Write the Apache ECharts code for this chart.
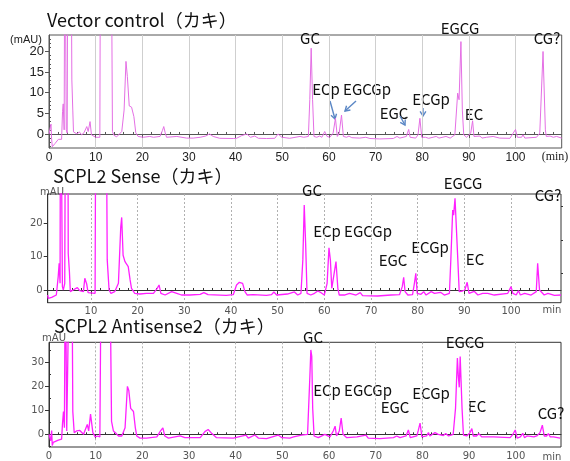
<!DOCTYPE html>
<html><head><meta charset="utf-8">
<script src="https://cdn.jsdelivr.net/npm/echarts@6/dist/echarts.min.js"></script>
<style>html,body{margin:0;padding:0;background:#fff}#c{width:570px;height:461px}</style>
</head><body><div id="c"></div>
<script>
// ---------- data ----------
const titles = ['Vector control（カキ）', 'SCPL2 Sense（カキ）', 'SCPL2 Antisense2（カキ）'];
const peakNames = ['GC', 'ECp', 'EGCGp', 'EGC', 'ECGp', 'EGCG', 'EC', 'CG?'];
const xMajor1 = [0,10,20,30,40,50,60,70,80,90,100];
const xMajor2 = [10,20,30,40,50,60,70,80,90,100];
const xMajor3 = [0,10,20,30,40,50,60,70,80,90,100];
const xMinor = [2,4,6,8,12,14,16,18,22,24,26,28,32,34,36,38,42,44,46,48,52,54,56,58,62,64,66,68,72,74,76,78,82,84,86,88,92,94,96,98,102,104,106,108];
const yMajor1 = [0,5,10,15,20];
const yMinor1 = [-3,-2,-1,1,2,3,4,6,7,8,9,11,12,13,14,16,17,18,19,21,22,23];
const yMajor2 = [0,10,20];
const yMinor2 = [5,15,25];
const yMajor3 = [0,10,20,30];
const yMinor3 = [-5,5,15,25,35];

// Vector control (time min, mAU)
const trace1 = [[0,0],[0.3,0.2],[0.43,2.4],[0.55,-1],[0.7,-3.1],[1.3,-2.3],[2,-1.3],[2.7,-1.3],[2.9,5.4],[3.05,7.3],[3.25,1],[3.4,60],[3.55,60],[3.7,1],[3.9,0.2],[4.05,60],[4.7,60],[4.9,13.1],[5.1,5.8],[5.25,0.5],[5.6,0.2],[6,0],[6.5,0.5],[7,-0.2],[7.5,0.3],[8.1,1.8],[8.4,0.6],[8.8,3],[9.1,-0.2],[9.5,-0.6],[10,-0.8],[10.9,-0.8],[11.05,60],[13.3,60],[13.6,0.6],[13.9,-0.3],[14.5,-0.7],[15.6,0.6],[16.1,5.8],[16.5,17.6],[16.8,13.9],[17.2,6.8],[17.7,6.5],[18.2,4.2],[18.6,0.3],[19.1,-0.6],[20.2,-0.8],[21.6,-0.6],[22.4,-0.8],[23.8,-0.6],[24.3,0.8],[24.6,1.8],[24.9,0.3],[25.2,-0.8],[27.4,-0.6],[29.5,-1],[30.9,-1],[32.4,-0.8],[33.6,-0.5],[34.4,0],[35.2,-0.6],[36.6,-1.05],[39.5,-1.1],[40.2,-1.05],[41.3,-0.4],[42.4,0],[43.2,-0.8],[44.1,-0.5],[44.9,-1.05],[46.6,-1.1],[48.4,-1.05],[49.1,0],[49.9,-0.8],[51.6,-1.05],[53.8,-0.6],[54.1,-0.5],[54.6,-0.8],[55.6,-0.6],[55.9,8.3],[56.2,20.8],[56.5,8.3],[56.8,-0.6],[57.4,-0.8],[58,-0.5],[58.5,-0.8],[59.1,0.6],[59.6,-0.6],[60.2,-0.8],[60.9,0.2],[61.4,3.8],[61.8,-0.6],[62.2,0.2],[62.7,4.6],[63.1,-0.6],[63.8,-0.8],[64.3,-0.5],[64.9,-0.9],[66.6,-1],[67.9,-0.8],[68.2,-0.6],[68.8,-1.1],[70.9,-1.2],[73.8,-1.1],[74.6,-0.6],[75.2,-1],[76.6,-0.6],[77.1,1.1],[77.4,-0.8],[78.6,-1],[79.1,-0.2],[79.5,3.8],[79.9,-0.8],[80.7,-0.8],[81.4,-1.05],[83,-0.6],[83.6,-1],[85.1,-0.6],[86,-1],[87,-0.2],[87.6,9.9],[87.9,8.3],[88.3,22.4],[88.6,5.8],[88.9,-0.2],[89.5,-0.8],[90.4,0.2],[90.8,3.2],[91.1,-0.6],[92.4,-0.5],[92.8,-1],[93.8,-0.8],[95.2,-0.6],[96.6,-1],[98.8,-1.05],[99.5,0.2],[100,1.1],[100.4,-0.8],[101.3,-0.8],[101.6,-0.2],[102,-1],[104.5,-0.8],[105.2,0.2],[105.9,20],[106.4,1],[106.6,-0.6],[107.4,-0.5],[108.1,-0.8],[108.8,-0.6],[109.9,-1]];

// SCPL2 Sense
const trace2 = [[0.75,-1.5],[0.86,-2.5],[1.6,-2.2],[2.6,-1.5],[3,4],[3.2,8],[3.4,2],[3.5,80],[3.7,80],[3.9,1],[4.1,0],[4.4,2],[4.6,80],[5.05,80],[5.15,10.9],[5.4,5.5],[5.6,-0.5],[6.2,0],[7.1,0.7],[7.6,-0.2],[8.4,-0.5],[8.7,3.5],[9.1,1.8],[9.4,-0.8],[9.8,-1],[10.9,-1],[11.1,80],[13.2,80],[13.5,9],[13.9,0],[14.3,-1],[15.1,-0.5],[15.9,2],[16.4,18.9],[16.6,21.7],[16.9,10.4],[17.3,8.5],[18,7],[18.4,3],[18.7,0.5],[19.4,-1],[20.5,-1.2],[21.9,-1],[23.4,-1],[24.2,0.5],[24.6,1.5],[25,-1],[25.9,-1.5],[27.3,-0.5],[28.4,-1],[29.4,-1.5],[31.2,-1.5],[33.4,-1.3],[34.2,-0.8],[35.1,-1.4],[39,-1.6],[40.5,-1.4],[41.2,1.5],[41.8,2.3],[42.5,2],[43,-0.5],[43.5,-1.5],[44.8,-1.4],[47.6,-1.6],[48.7,-1.4],[49.2,-0.6],[49.8,-1.5],[52.1,-1.2],[53.6,-0.6],[54.3,-1.5],[55,-1],[55.4,9],[55.7,25.4],[56,13.9],[56.3,-1],[57.1,-1.5],[57.9,-1],[58.6,-0.3],[59.3,-0.8],[60,-1.5],[60.6,2],[61,12.6],[61.3,9],[61.6,0.5],[62,0],[62.5,8.5],[62.9,0.5],[63.2,-1.5],[64.3,-1.5],[65.4,-1],[66.8,-1.5],[67.7,-0.8],[68.2,-1.7],[71.4,-1.8],[74.3,-1.5],[76.1,-1.4],[76.7,1],[77,3.8],[77.3,-0.5],[77.9,-1.5],[78.9,-1.4],[79.3,2],[79.6,5],[79.9,-1],[80.7,-1.3],[81.3,-0.5],[81.8,-1.5],[82.9,-0.5],[83.6,-1],[84.9,-0.7],[85.7,-1.5],[86.8,-1],[87.1,9],[87.5,23.9],[87.7,22.4],[88,27.4],[88.2,26.9],[88.6,9],[88.9,-0.5],[89.6,-0.3],[90.1,0],[90.6,2.3],[91,-1],[92.1,-0.4],[92.9,-1.5],[93.9,-1],[94.3,-1.5],[95,-1],[96.4,-1.5],[99.3,-1],[100,1],[100.4,-1],[101.1,-1.5],[101.6,-0.2],[102,-1.5],[102.9,-1],[104.3,-1.5],[105.4,-0.5],[105.7,8],[106.1,0],[107.1,-1.5],[107.9,-1],[109.3,-1.6],[110.7,-1.5]];

// SCPL2 Antisense2
const trace3 = [[0,0],[0.36,-2.7],[0.57,1.6],[0.7,-4.7],[0.9,-3.4],[1.3,-3],[2,-2.4],[2.7,-2],[2.9,4.7],[3.1,9.5],[3.3,2.7],[3.5,80],[3.65,80],[3.8,1.4],[4.1,0.7],[4.4,80],[4.9,80],[5.1,9.5],[5.4,0.7],[5.9,1.4],[6.6,1.6],[7.4,0],[8.2,4.1],[8.5,1.4],[8.9,8.4],[9.1,8.8],[9.4,0.7],[9.9,-1.1],[10.4,-0.7],[10.9,-1.1],[11.2,80],[13,80],[13.4,5.4],[13.8,1.4],[14.4,0.3],[14.9,-0.7],[15.6,-0.7],[16.3,2.7],[16.8,20],[17.1,18.3],[17.5,10.8],[18.1,9.5],[18.5,2.7],[18.8,-0.7],[19.5,-1.6],[20.9,-1.6],[23.1,-1.1],[23.9,1.4],[24.4,2.7],[24.8,-0.7],[25.6,-1.6],[28.1,-0.7],[29.1,-1.4],[30.2,-1.4],[32.4,-1.4],[33.4,1.1],[34.1,2],[34.9,0.3],[35.9,-1.4],[39.5,-1.6],[42.2,-0.3],[42.7,-1.6],[44.1,-0.3],[44.9,-1.6],[46.6,-1.8],[49.1,-0.3],[49.9,-1.4],[51.6,-1.6],[52.4,-1.1],[54.1,-0.3],[54.5,-1.1],[55.4,0],[55.9,24.4],[56.1,35.2],[56.3,32.5],[56.5,10.8],[56.8,-0.7],[57.7,-1.4],[59.1,0],[60.2,-1.1],[60.9,1.4],[61.3,3.4],[61.6,-0.7],[62.2,1.4],[62.6,6.8],[63,0],[63.8,-1.4],[66,-1.1],[67.9,-0.3],[68.4,-1.6],[70.9,-1.8],[73.8,-1.4],[74.5,-0.7],[75.2,-1.4],[76.5,-0.7],[77,1.8],[77.4,-1.4],[78.8,-0.7],[79.1,1.4],[79.5,4.7],[79.9,-1.1],[80.9,-0.7],[81.3,0.7],[81.6,-0.7],[82.7,0.7],[83.4,0],[84.5,-0.5],[85,0.3],[85.6,-0.7],[86.6,0],[87.1,10.8],[87.5,31.8],[87.7,24.4],[87.9,19.6],[88.1,32.5],[88.3,32.5],[88.5,10.8],[88.8,-0.3],[89.5,-0.7],[90.2,0.7],[90.6,2.4],[90.9,-0.7],[91.6,-0.7],[92.1,0.3],[92.7,-1.1],[95.2,-1.1],[98.8,-1.4],[99.4,0],[99.9,1.8],[100.3,-1.6],[101,-1.1],[101.5,0.4],[101.9,-1.4],[102.4,-0.7],[103.9,-1.1],[104.5,-0.7],[105.2,0.7],[105.7,3.8],[106.1,-0.7],[106.6,-0.7],[107,0.3],[107.4,-1.1],[108.1,-1.1],[109.5,-1.6]];

// ---------- layout ----------
const panels = [
  {grid:{left:49, top:35, width:512.7, height:113}, x:[0,109.9], y:[-3.4,24], xMajor:xMajor1, yMajor:yMajor1, yMinor:yMinor1, data:trace1,
   lineColor:'#e46fe4', lineWidth:1, axisColor:'#555', split:{color:'#cfcfcf', type:'solid'}, labelFont:12, labelColor:'#222', labelFamily:'Liberation Sans'},
  {grid:{left:47.7, top:194, width:513.3, height:108.7}, x:[0.75,110.7], y:[-3.8,28.7], xMajor:xMajor2, yMajor:yMajor2, yMinor:yMinor2, data:trace2,
   lineColor:'#ff20ff', lineWidth:1.3, axisColor:'#333', split:{color:'#b0b0b0', type:[2,2]}, labelFont:10, labelColor:'#555', labelFamily:'DejaVu Sans'},
  {grid:{left:49, top:342.3, width:512, height:107.4}, x:[0,109.7], y:[-5.3,38.4], xMajor:xMajor3, yMajor:yMajor3, yMinor:yMinor3, data:trace3,
   lineColor:'#ff20ff', lineWidth:1.3, axisColor:'#333', split:{color:'#b0b0b0', type:[2,2]}, labelFont:10, labelColor:'#555', labelFamily:'DejaVu Sans'}
];

const grid = [], xAxis = [], yAxis = [], series = [];
panels.forEach((p, i) => {
  grid.push(Object.assign({show:true, borderColor:p.axisColor, borderWidth:1, backgroundColor:'transparent'}, p.grid));
  // main x axis
  xAxis.push({type:'value', gridIndex:i, min:p.x[0], max:p.x[1],
    axisLine:{show:true, lineStyle:{color:p.axisColor}},
    axisTick:{show:true, length:4, customValues:p.xMajor, lineStyle:{color:p.axisColor}},
    axisLabel:{customValues:p.xMajor, fontSize:p.labelFont, color:p.labelColor, fontFamily:p.labelFamily, margin:4},
    splitLine:{show:true, lineStyle:{color:p.split.color, type:p.split.type, width:1}}});
  // minor x ticks
  xAxis.push({type:'value', gridIndex:i, min:p.x[0], max:p.x[1],
    axisLine:{show:false}, axisLabel:{show:false}, splitLine:{show:false},
    axisTick:{show:true, length:2, customValues:xMinor, lineStyle:{color:p.axisColor}}});
  yAxis.push({type:'value', gridIndex:i, min:p.y[0], max:p.y[1],
    axisLine:{show:true, lineStyle:{color:p.axisColor}},
    axisTick:{show:true, length:4, customValues:p.yMajor, lineStyle:{color:p.axisColor}},
    axisLabel:{customValues:p.yMajor, fontSize:p.labelFont+ (i===0?1:0), color:p.labelColor, fontFamily:p.labelFamily, margin:5},
    splitLine:{show:false}});
  yAxis.push({type:'value', gridIndex:i, min:p.y[0], max:p.y[1],
    axisLine:{show:false}, axisLabel:{show:false}, splitLine:{show:false},
    axisTick:{show:true, length:2, customValues:p.yMinor, lineStyle:{color:p.axisColor}}});
  series.push({type:'line', xAxisIndex:i*2, yAxisIndex:i*2, data:p.data, showSymbol:false, symbol:'none',
    clip:true, lineStyle:{color:p.lineColor, width:p.lineWidth}, animation:false, silent:true});
});

// ---------- text / annotations ----------
const titleFont = '"Noto Sans CJK JP", "Noto Sans", sans-serif';
const titlePos = [[47,20],[53,176],[54,326]];
// label centres per panel, in peakNames order: GC, ECp, EGCGp, EGC, ECGp, EGCG, EC, CG?
const labelPos = [
  [[310,38],[326,89],[367,89],[394,113],[431,99],[460,28],[474,114],[547,38]],
  [[312,190],[327,231],[368,231],[393,260],[430,247],[463,183],[475,259],[548,195]],
  [[313,337],[327,390],[368,390],[395,407],[431,393],[465,342],[477,406],[551,413]]
];
const arrows = [[330,101,335,119],[356,101,345,111],[400,116,405,125],[423,108,423,116]];

const graphic = [];
titles.forEach((t, i) => graphic.push({type:'text', x:titlePos[i][0], y:titlePos[i][1],
  style:{text:t, fill:'#111', font:'18px ' + titleFont, verticalAlign:'middle', align:'left'}}));
labelPos.forEach(lst => lst.forEach((pt, k) => graphic.push({type:'text', x:pt[0], y:pt[1],
  style:{text:peakNames[k], fill:'#111', font:'15px ' + titleFont, align:'center', verticalAlign:'middle'}})));
const blue = '#5b87c5';
arrows.forEach(a => {
  const [x1,y1,x2,y2] = a; const ang = Math.atan2(y2-y1, x2-x1), L = 5.5, w = 0.55;
  graphic.push({type:'line', shape:{x1,y1,x2,y2}, style:{stroke:blue, lineWidth:1.4}});
  graphic.push({type:'polyline', shape:{points:[[x2-L*Math.cos(ang-w), y2-L*Math.sin(ang-w)],[x2,y2],[x2-L*Math.cos(ang+w), y2-L*Math.sin(ang+w)]]},
    style:{stroke:blue, lineWidth:1.4, fill:null}});
});
graphic.push({type:'text', x:26, y:40, style:{text:'(mAU)', fill:'#222', font:'11px "Liberation Sans"', align:'center', verticalAlign:'middle'}});
graphic.push({type:'text', x:52, y:192, style:{text:'mAU', fill:'#555', font:'10px "DejaVu Sans"', align:'center', verticalAlign:'middle'}});
graphic.push({type:'text', x:54, y:338, style:{text:'mAU', fill:'#555', font:'10px "DejaVu Sans"', align:'center', verticalAlign:'middle'}});
graphic.push({type:'text', x:555, y:157, style:{text:'(min)', fill:'#222', font:'12px "Liberation Serif"', align:'center', verticalAlign:'middle'}});
graphic.push({type:'text', x:552, y:310, style:{text:'min', fill:'#555', font:'10px "DejaVu Sans"', align:'center', verticalAlign:'middle'}});
graphic.push({type:'text', x:552, y:457, style:{text:'min', fill:'#555', font:'10px "DejaVu Sans"', align:'center', verticalAlign:'middle'}});

const chart = echarts.init(document.getElementById('c'), null, {renderer:'canvas'});
chart.setOption({animation:false, backgroundColor:'#fff', grid, xAxis, yAxis, series, graphic});
</script></body></html>
